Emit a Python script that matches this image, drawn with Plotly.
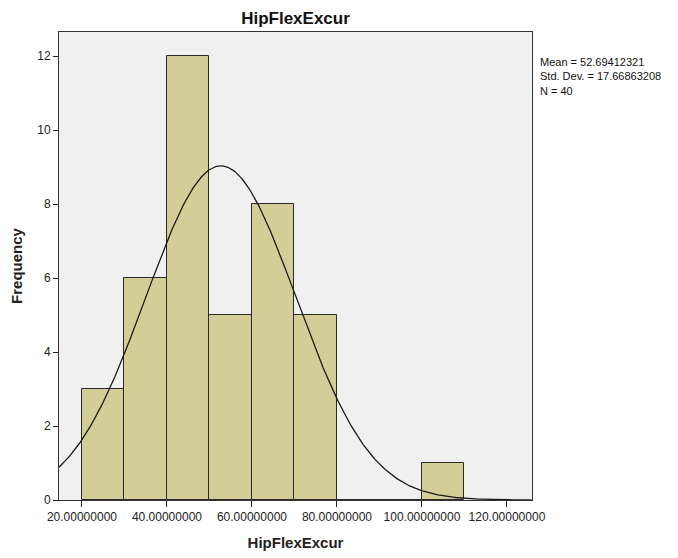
import numpy as np
import plotly.graph_objects as go

bin_left = [20, 30, 40, 50, 60, 70, 80, 90, 100]
counts = [3, 6, 12, 5, 8, 5, 0, 0, 1]
bin_width = 10
mean = 52.69412321
std = 17.66863208
n = 40
x_ticks = [20, 40, 60, 80, 100, 120]
y_ticks = [0, 2, 4, 6, 8, 10, 12]

font = "Liberation Sans, Arial, sans-serif"

fig = go.Figure()
fig.add_trace(go.Bar(
    x=[b + bin_width / 2 for b in bin_left], y=counts, width=bin_width,
    marker=dict(color="#D3CE98", line=dict(color="#2a2a2a", width=1)),
    showlegend=False, hoverinfo="skip"))

xs = np.linspace(14.6, 125.8, 400)
ys = n * bin_width / (std * np.sqrt(2 * np.pi)) * np.exp(-0.5 * ((xs - mean) / std) ** 2)
fig.add_trace(go.Scatter(x=xs, y=ys, mode="lines",
                         line=dict(color="#1a1a1a", width=1.3),
                         showlegend=False, hoverinfo="skip"))

fig.update_layout(
    width=678, height=558,
    margin=dict(l=59, r=146, t=32, b=58, autoexpand=False),
    paper_bgcolor="white", plot_bgcolor="#F0F0F0",
    font=dict(family=font, color="#222222", size=12),
    bargap=0,
    title=dict(text="<b>HipFlexExcur</b>", x=(59 + 532) / 2 / 678, xanchor="center",
               y=1 - 18 / 558, yanchor="middle", font=dict(size=17, color="#111111")),
    xaxis=dict(range=[14.6, 125.9], tickvals=x_ticks,
               ticktext=[f"{v:.8f}" for v in x_ticks], automargin=False,
               ticks="outside", ticklen=6, tickcolor="#222", showgrid=False, zeroline=False,
               showline=True, linecolor="#333", linewidth=1, mirror=True,
               tickfont=dict(size=12),
               title=dict(text="<b>HipFlexExcur</b>", font=dict(size=15), standoff=14)),
    yaxis=dict(range=[0, 12.65], tickvals=y_ticks, ticks="outside", ticklen=5,
               tickcolor="#222", showgrid=False, zeroline=False, automargin=False,
               showline=True, linecolor="#333", linewidth=1, mirror=True,
               tickfont=dict(size=12),
               title=dict(text="<b>Frequency</b>", font=dict(size=15), standoff=10)),
    annotations=[dict(
        text=f"Mean = {mean:.8f}<br>Std. Dev. = {std:.8f}<br>N = {n}",
        xref="paper", yref="paper", x=1, xshift=6, y=1 - 22 / 468, yanchor="top",
        xanchor="left", align="left", showarrow=False,
        font=dict(size=11, color="#111111"))],
)

fig.write_html("out.html")
